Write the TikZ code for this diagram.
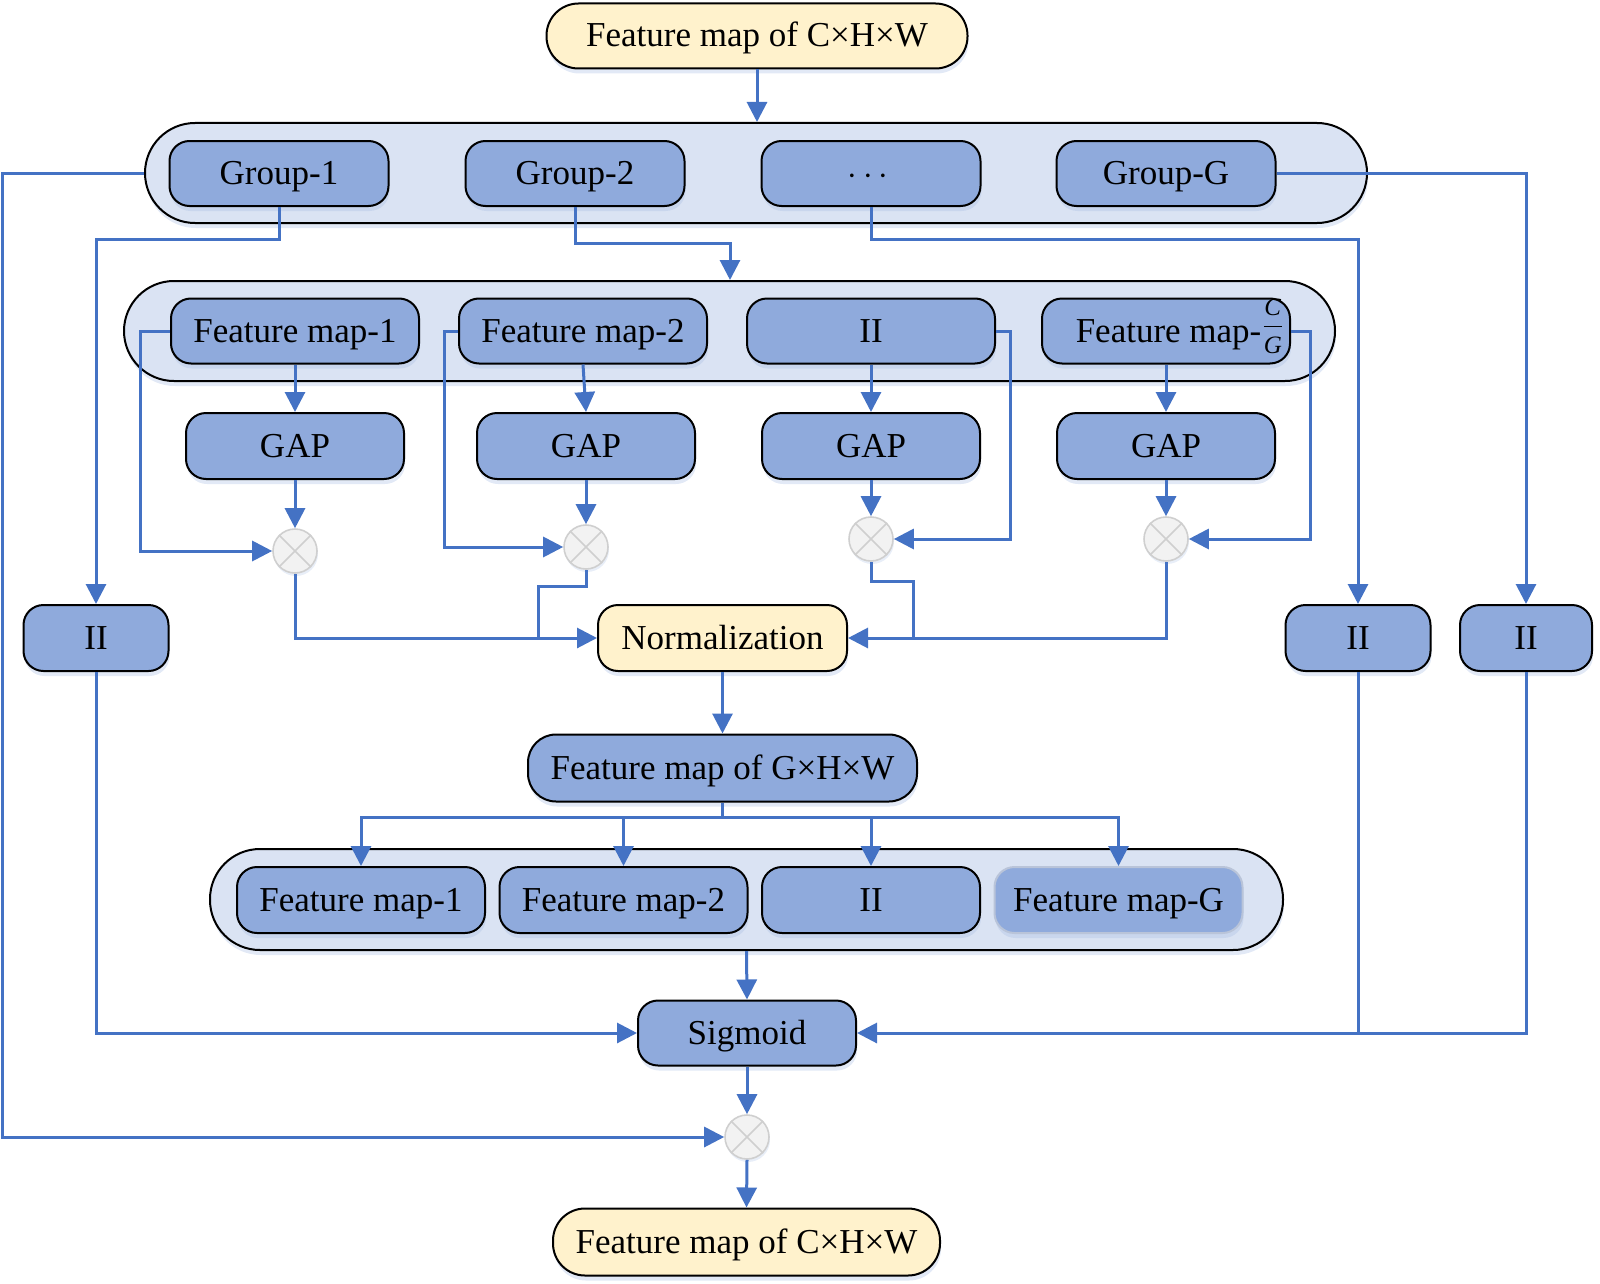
\documentclass[tikz,border=0pt]{standalone}
\usepackage{amsmath}
\usepackage{fontspec}
\setmainfont{Liberation Serif}
\usetikzlibrary{arrows.meta,shadows}
\definecolor{lineblue}{HTML}{4472C4}
\definecolor{nodeblue}{HTML}{8FAADC}
\definecolor{contblue}{HTML}{DAE3F3}
\definecolor{creamy}{HTML}{FFF2CC}
\definecolor{cgray}{HTML}{F2F2F2}
\definecolor{cedge}{HTML}{CFCFCF}
\tikzset{
  shad/.style={drop shadow={shadow xshift=0.5pt, shadow yshift=-2.5pt, opacity=.35, fill=lineblue!45!white}},
  box/.style={rectangle, rounded corners=10pt, draw=black, line width=1pt, fill=nodeblue,
    minimum height=32.5pt, inner sep=0pt, text height=12.5pt, text depth=1.5pt,
    font=\fontsize{17.5}{20}\selectfont, shad},
  grpbox/.style={box, minimum width=109.5pt},
  fmbox/.style={box, minimum width=124pt},
  gapbox/.style={box, minimum width=109pt, minimum height=33pt},
  crbox/.style={box, fill=creamy},
  contbox/.style={rectangle, rounded corners=25pt, draw=black, line width=1pt, fill=contblue,
    inner sep=0pt, shad},
  mult/.style={circle, draw=cedge, line width=0.8pt, fill=cgray, minimum size=22pt, inner sep=0pt,
    drop shadow={shadow xshift=0.5pt, shadow yshift=-1.5pt, opacity=.3, fill=lineblue!40!white}},
  ln/.style={draw=lineblue, line width=1.5pt},
  arr/.style={ln, -{Triangle[length=10pt,width=10pt]}},
}
\newcommand{\crossit}[1]{\draw[cedge, line width=0.8pt] (#1.north west) -- (#1.south east) (#1.north east) -- (#1.south west);}
\newcommand{\fracsym}[1]{\textit{\fontsize{12.5}{14}\selectfont #1}}
\newcommand{\cgfrac}{\raisebox{3.6pt}{$\genfrac{}{}{0.6pt}{1}{\fracsym{C}\rule[-4.3pt]{0pt}{4.3pt}}{\fracsym{G}\rule{0pt}{13pt}}$}}
\begin{document}
\begin{tikzpicture}[x=0.5pt,y=-0.5pt]
\useasboundingbox (0,0) rectangle (1600,1284);
% containers
\node[contbox, minimum width=611pt, minimum height=50pt] (gc) at (756,173) {};
\node[contbox, minimum width=605.5pt, minimum height=50pt] (fc) at (729.5,331) {};
\node[contbox, minimum width=536.5pt, minimum height=50.5pt] (bc) at (746.5,899.5) {};
% top
\node[crbox, minimum width=210.5pt, rounded corners=16pt] (top) at (757,36) {Feature map of C×H×W};
% groups
\node[grpbox] (g1) at (279,173.5) {Group-1};
\node[grpbox] (g2) at (575,173.5) {Group-2};
\node[grpbox] (g3) at (871,173.5) {$\cdots$};
\node[grpbox] (g4) at (1166,173.5) {Group-G};
% feature maps
\node[fmbox] (f1) at (295,331) {Feature map-1};
\node[fmbox] (f2) at (583,331) {Feature map-2};
\node[fmbox] (f3) at (871,331) {II};
\node[fmbox] (f4) at (1166,331) {\hspace*{14pt}Feature map-\cgfrac};
% GAP
\node[gapbox] (a1) at (295,446) {GAP};
\node[gapbox] (a2) at (586,446) {GAP};
\node[gapbox] (a3) at (871,446) {GAP};
\node[gapbox] (a4) at (1166,446) {GAP};
% multipliers
\node[mult] (m1) at (295,551) {}; \crossit{m1}
\node[mult] (m2) at (586,547) {}; \crossit{m2}
\node[mult] (m3) at (871,539) {}; \crossit{m3}
\node[mult] (m4) at (1166,539) {}; \crossit{m4}
% normalization and side boxes
\node[crbox, minimum width=124.5pt, minimum height=33pt] (norm) at (722.5,638) {Normalization};
\node[box, minimum width=72.5pt, minimum height=33pt] (s1) at (96,638) {II};
\node[box, minimum width=72.5pt, minimum height=33pt] (s2) at (1358,638) {II};
\node[box, minimum width=66pt, minimum height=33pt] (s3) at (1526,638) {II};
% GxHxW
\node[box, minimum width=194.5pt, minimum height=33.5pt, rounded corners=14pt] (ghw) at (722.5,768) {Feature map of G×H×W};
% bottom row
\node[fmbox, minimum height=33pt] (b1) at (361,900) {Feature map-1};
\node[fmbox, minimum height=33pt] (b2) at (623.5,900) {Feature map-2};
\node[gapbox] (b3) at (871,900) {II};
\node[fmbox, minimum height=33pt, draw=nodeblue!70!gray!60!white] (b4) at (1118.5,900) {Feature map-G};
% sigmoid, final
\node[gapbox, minimum height=32.5pt] (sig) at (747,1033) {Sigmoid};
\node[mult] (m5) at (747,1137) {}; \crossit{m5}
\node[crbox, minimum width=193.5pt, minimum height=33.5pt, rounded corners=16pt] (fin) at (746.5,1242) {Feature map of C×H×W};
% connectors
\draw[arr] (top.south) -- (top.south |- gc.north);
\draw[arr] (gc.west) -- (2,173) |- (m5.west);
\draw[arr] (g4.east) -| (s3.north);
\draw[arr] (g1.south) -- ++(0,32) -| (s1.north);
\draw[arr] (g2.south) |- (730,243) -- (730,0 |- fc.north);
\draw[arr] (g3.south) -- ++(0,32) -| (s2.north);
\draw[arr] (f1.south) -- (a1.north);
\draw[arr] (f2.south) -- (a2.north);
\draw[arr] (f3.south) -- (a3.north);
\draw[arr] (f4.south) -- (a4.north);
\draw[arr] (a1.south) -- (m1.north);
\draw[arr] (a2.south) -- (m2.north);
\draw[arr] (a3.south) -- (m3.north);
\draw[arr] (a4.south) -- (m4.north);
\draw[arr] (f1.west) -- (140,331) |- (m1.west);
\draw[arr] (f2.west) -- (444,331) |- (m2.west);
\draw[arr] (f3.east) -- (1010,331) |- (m3.east);
\draw[arr] (f4.east) -- (1310,331) |- (m4.east);
\draw[arr] (m1.south) |- (norm.west);
\draw[ln] (m2.south) -- ++(0,17) -| (538,638);
\draw[ln] (m3.south) -- ++(0,20) -| (913,638);
\draw[arr] (m4.south) |- (norm.east);
\draw[arr] (norm.south) -- (ghw.north);
\draw[arr] (ghw.south) -- ++(0,15) -| (b1.north);
\draw[arr] (ghw.south) -- ++(0,15) -| (b2.north);
\draw[arr] (ghw.south) -- ++(0,15) -| (b3.north);
\draw[arr] (ghw.south) -- ++(0,15) -| (b4.north);
\draw[arr] (bc.south) -- (sig.north);
\draw[arr] (s1.south) |- (sig.west);
\draw[arr] (s2.south) |- (sig.east);
\draw[ln] (s3.south) |- (s2.south |- sig.east);
\draw[arr] (sig.south) -- (m5.north);
\draw[arr] (m5.south) -- (fin.north);
\end{tikzpicture}
\end{document}
